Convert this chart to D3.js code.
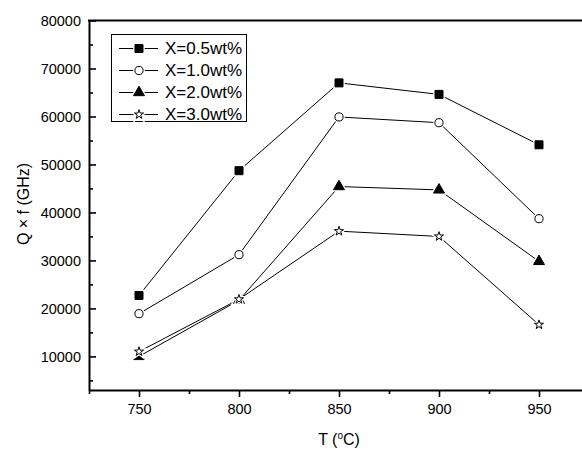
<!DOCTYPE html>
<html lang="en">
<head>
    <meta charset="UTF-8">
    <title>Qxf vs sintering temperature</title>
    <style>
        body {
            margin: 0;
            background: #fff;
        }
        svg {
            font-family: "Liberation Sans", Arial, sans-serif;
        }
        .axis path,
        .axis line {
            fill: none;
            stroke: #000;
        }
        .axis text {
            fill: #000;
            font-size: 14.5px;
        }
    </style>
</head>
<body>
<div id="chart"></div>

<script src="https://d3js.org/d3.v7.min.js"></script>
<script>

    // data
    var temps = [750, 800, 850, 900, 950];
    var seriesNames = ["X=0.5wt%", "X=1.0wt%", "X=2.0wt%", "X=3.0wt%"];
    var qf05 = [22700, 48700, 67000, 64600, 54100];
    var qf10 = [18900, 31200, 59900, 58700, 38700];
    var qf20 = [10000, 21700, 45400, 44700, 29800];
    var qf30 = [11000, 21900, 36100, 35000, 16600];
    var xTicks = [750, 800, 850, 900, 950];
    var yTicks = [10000, 20000, 30000, 40000, 50000, 60000, 70000, 80000];

    var allSeries = [qf05, qf10, qf20, qf30];

    // marker per series: symbol, size, filled?
    var markers = [
        {type: d3.symbolSquare, size: 64, filled: true},
        {type: d3.symbolCircle, size: 52, filled: false},
        {type: d3.symbolTriangle, size: 52, filled: true},
        {type: d3.symbolStar, size: 26, filled: false}
    ];

    var width = 582, height = 450;
    var plotLeft = 89, plotTop = 20.5, plotBottom = 390, plotRight = 589;

    var svg = d3.select("#chart").append("svg")
            .attr("width", width)
            .attr("height", height);

    var x = d3.scaleLinear()
            .domain([725, 975])
            .range([plotLeft, plotRight]);

    var y = d3.scaleLinear()
            .domain([3000, 80000])
            .range([plotBottom, plotTop]);

    // minor ticks
    var xMinor = d3.range(725, 976, 50);
    var yMinor = d3.range(5000, 80000, 10000);

    // x axis (ticks point outward)
    var xAxis = svg.append("g")
            .attr("class", "axis")
            .attr("transform", "translate(0," + plotBottom + ")")
            .call(d3.axisBottom(x).tickValues(xTicks).tickSize(7).tickPadding(7).tickSizeOuter(0));
    xAxis.select(".domain").attr("stroke-width", 2);
    xAxis.selectAll(".tick line").attr("stroke-width", 1.6);

    svg.append("g")
            .attr("class", "axis")
            .attr("transform", "translate(0," + plotBottom + ")")
            .call(d3.axisBottom(x).tickValues(xMinor).tickSize(4).tickFormat("").tickSizeOuter(0))
            .call(function(g) { g.select(".domain").remove(); })
            .selectAll(".tick line").attr("stroke-width", 1.6);

    // y axis (ticks point inward)
    var yAxis = svg.append("g")
            .attr("class", "axis")
            .attr("transform", "translate(" + plotLeft + ",0)")
            .call(d3.axisLeft(y).tickValues(yTicks).tickSize(-7).tickPadding(8).tickSizeOuter(0).tickFormat(d3.format("d")));
    yAxis.select(".domain").attr("stroke-width", 2);
    yAxis.selectAll(".tick line").attr("stroke-width", 1.6);

    svg.append("g")
            .attr("class", "axis")
            .attr("transform", "translate(" + plotLeft + ",0)")
            .call(d3.axisLeft(y).tickValues(yMinor).tickSize(-4).tickFormat("").tickSizeOuter(0))
            .call(function(g) { g.select(".domain").remove(); })
            .selectAll(".tick line").attr("stroke-width", 1.6);

    // top and right frame lines
    svg.append("line")
            .attr("x1", plotLeft - 1).attr("x2", plotRight)
            .attr("y1", plotTop).attr("y2", plotTop)
            .attr("stroke", "#000")
            .attr("stroke-width", 2);
    svg.append("line")
            .attr("x1", plotRight).attr("x2", plotRight)
            .attr("y1", plotTop).attr("y2", plotBottom)
            .attr("stroke", "#000")
            .attr("stroke-width", 2);

    // axis titles
    svg.append("text")
            .attr("transform", "translate(29,204) rotate(-90)")
            .attr("text-anchor", "middle")
            .style("font-size", "16px")
            .text("Q \u00d7 f (GHz)");

    var xTitle = svg.append("text")
            .attr("x", 339)
            .attr("y", 445)
            .attr("text-anchor", "middle")
            .style("font-size", "16px");
    xTitle.append("tspan").text("T (");
    xTitle.append("tspan").attr("dy", -6).style("font-size", "10px").text("o");
    xTitle.append("tspan").attr("dy", 6).text("C)");

    var line = d3.line()
            .x(function(d, i) { return x(temps[i]); })
            .y(function(d) { return y(d); });

    function drawMarker(g, m, cx, cy) {
        var path = d3.symbol().type(m.type).size(m.size)();
        // white halo gives the small gap between line and marker
        g.append("path")
                .attr("d", path)
                .attr("transform", "translate(" + cx + "," + cy + ")")
                .attr("fill", "#fff")
                .attr("stroke", "#fff")
                .attr("stroke-width", 3.5);
        g.append("path")
                .attr("d", path)
                .attr("transform", "translate(" + cx + "," + cy + ")")
                .attr("fill", m.filled ? "#000" : "#fff")
                .attr("stroke", "#000")
                .attr("stroke-width", 1);
    }

    // series lines then markers
    allSeries.forEach(function(vals) {
        svg.append("path")
                .datum(vals)
                .attr("d", line)
                .attr("fill", "none")
                .attr("stroke", "#000")
                .attr("stroke-width", 1);
    });
    allSeries.forEach(function(vals, s) {
        var g = svg.append("g");
        vals.forEach(function(v, i) {
            drawMarker(g, markers[s], x(temps[i]), y(v));
        });
    });

    // legend
    var legend = svg.append("g");
    legend.append("rect")
            .attr("x", 111.5).attr("y", 34.5)
            .attr("width", 135).attr("height", 87)
            .attr("fill", "#fff")
            .attr("stroke", "#000")
            .attr("stroke-width", 1);

    seriesNames.forEach(function(name, s) {
        var ly = 48.5 + s * 22;
        legend.append("line")
                .attr("x1", 119).attr("x2", 158)
                .attr("y1", ly).attr("y2", ly)
                .attr("stroke", "#000")
                .attr("stroke-width", 1);
        drawMarker(legend, markers[s], 139, ly);
        legend.append("text")
                .attr("x", 165)
                .attr("y", ly)
                .attr("dy", "0.35em")
                .style("font-size", "17px")
                .text(name);
    });

</script>
</body>
</html>
